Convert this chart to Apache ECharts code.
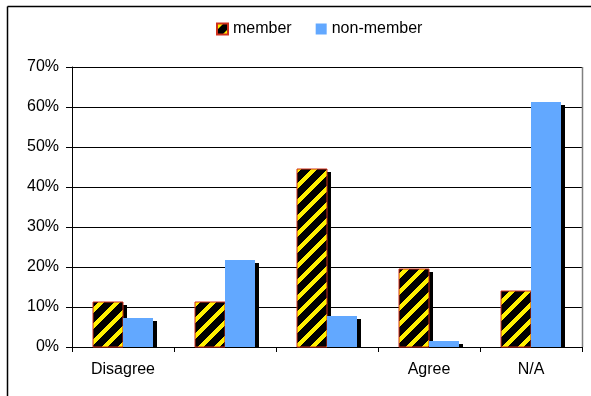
<!DOCTYPE html>
<html>
<head>
<meta charset="utf-8">
<script src="https://cdn.jsdelivr.net/npm/echarts@6/dist/echarts.min.js"></script>
<style>
  html, body { margin: 0; padding: 0; background: #fff; }
  #chart { width: 591px; height: 396px; }
</style>
</head>
<body>
<div id="chart"></div>
<script>
// Response categories (only the ends and N/A carry a label)
const categories = ['Disagree', ' ', '  ', 'Agree', 'N/A'];
// Share of answers, in percent
const memberValues = [11.2, 11.2, 44.4, 19.4, 14.0];
const nonMemberValues = [7.3, 21.8, 7.8, 1.5, 61.2];
const seriesNames = ['member', 'non-member'];
const yTicks = [0, 10, 20, 30, 40, 50, 60, 70];

// Black/yellow diagonal hatch used for the member bars
function makeHatch() {
  const c = document.createElement('canvas');
  const n = 16;
  c.width = n; c.height = n;
  const ctx = c.getContext('2d');
  const img = ctx.createImageData(n, n);
  for (let y = 0; y < n; y++) {
    for (let x = 0; x < n; x++) {
      const i = (y * n + x) * 4;
      const yellow = ((x + y) % n) < 6;
      img.data[i] = yellow ? 255 : 0;
      img.data[i + 1] = yellow ? 240 : 0;
      img.data[i + 2] = 0;
      img.data[i + 3] = 255;
    }
  }
  ctx.putImageData(img, 0, 0);
  return c;
}
const hatch = { image: makeHatch(), repeat: 'repeat' };
const blue = '#62a8ff';
const redEdge = '#d0301c';

// Bar with a drop shadow on its right side; side = -1 left of the band centre, +1 right
function barRenderer(side, fill, stroke) {
  return function (params, api) {
    const idx = api.value(0);
    const v = api.value(1);
    const top = api.coord([idx, v]);
    const base = api.coord([idx, 0]);
    const band = api.size([1, 0])[0];
    const w = Math.round(band * 30 / 102);
    const x = side < 0 ? Math.round(base[0]) - w : Math.round(base[0]);
    const yTop = Math.round(top[1]);
    const yBase = Math.round(base[1]);
    const h = yBase - yTop;
    return {
      type: 'group',
      children: [
        {
          type: 'rect',
          shape: { x: x + w, y: Math.min(yTop + 3, yBase), width: 4, height: Math.max(h - 3, 0) },
          style: { fill: '#000' }
        },
        {
          type: 'rect',
          shape: { x: x, y: yTop, width: w, height: h },
          style: stroke
            ? { fill: fill, stroke: stroke, lineWidth: 1 }
            : { fill: fill }
        }
      ]
    };
  };
}

const chart = echarts.init(document.getElementById('chart'), null, { renderer: 'canvas' });
const font = 'Liberation Sans, Arial, sans-serif';

chart.setOption({
  animation: false,
  backgroundColor: '#fff',
  textStyle: { fontFamily: font },
  graphic: [
    { type: 'line', shape: { x1: 7.5, y1: 6.5, x2: 591, y2: 6.5 }, style: { stroke: '#000', lineWidth: 1.5 } },
    { type: 'line', shape: { x1: 7.5, y1: 6.5, x2: 7.5, y2: 396 }, style: { stroke: '#000', lineWidth: 1.5 } },
    { type: 'line', shape: { x1: 582.5, y1: 67, x2: 582.5, y2: 347 }, style: { stroke: '#808080', lineWidth: 1.5 }, z: 10 }
  ],
  legend: {
    left: 211,
    top: 16,
    itemWidth: 11,
    itemHeight: 11,
    itemGap: 24,
    icon: 'rect',
    textStyle: { fontSize: 16, color: '#000', fontFamily: font },
    data: seriesNames
  },
  grid: { left: 72, right: 9, top: 67, bottom: 49, containLabel: false },
  xAxis: {
    type: 'category',
    data: categories,
    axisLine: { lineStyle: { color: '#000', width: 1 } },
    axisTick: { show: true, length: 5, lineStyle: { color: '#000' } },
    axisLabel: { fontSize: 16, color: '#000', margin: 15, fontFamily: font },
    splitLine: { show: false }
  },
  yAxis: {
    type: 'value',
    min: yTicks[0],
    max: yTicks[yTicks.length - 1],
    interval: 10,
    axisLine: { show: true, lineStyle: { color: '#000', width: 1 } },
    axisTick: { show: true, length: 6, lineStyle: { color: '#000' } },
    axisLabel: { fontSize: 16, color: '#000', margin: 13, formatter: '{value}%', fontFamily: font },
    splitLine: { show: true, lineStyle: { color: '#000', width: 1 } }
  },
  series: [
    {
      name: seriesNames[0],
      type: 'custom',
      renderItem: barRenderer(-1, hatch, redEdge),
      itemStyle: { color: hatch, borderColor: redEdge, borderWidth: 1 },
      encode: { x: 0, y: 1 },
      data: memberValues.map((v, i) => [i, v])
    },
    {
      name: seriesNames[1],
      type: 'custom',
      renderItem: barRenderer(1, blue, null),
      itemStyle: { color: blue },
      encode: { x: 0, y: 1 },
      data: nonMemberValues.map((v, i) => [i, v])
    }
  ]
});
</script>
</body>
</html>
